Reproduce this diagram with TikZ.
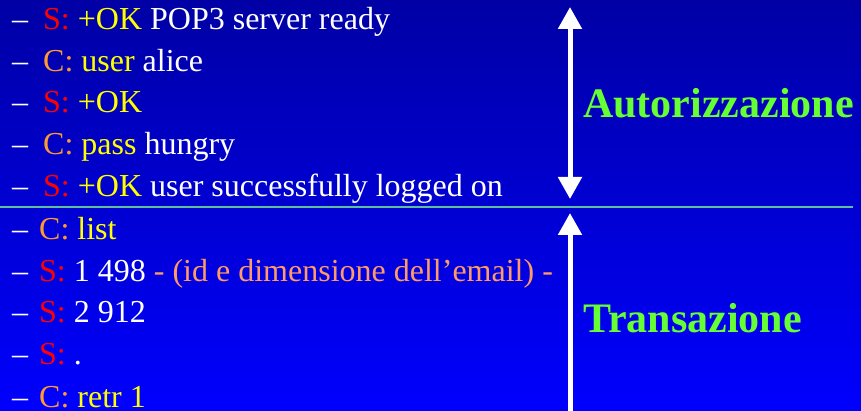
\documentclass[tikz,border=0pt]{standalone}
\usepackage{fontspec}
\setmainfont{Liberation Serif}
\usetikzlibrary{arrows.meta}

\definecolor{bgtop}{RGB}{0,0,165}
\definecolor{bgbot}{RGB}{0,0,255}
\definecolor{serv}{RGB}{255,0,0}
\definecolor{clie}{RGB}{255,153,51}
\definecolor{kw}{RGB}{255,255,0}
\definecolor{nota}{RGB}{255,153,102}
\definecolor{fase}{RGB}{102,255,51}
\definecolor{divisore}{RGB}{95,190,160}

\newcommand{\serv}[1]{\textcolor{serv}{#1}}
\newcommand{\clie}[1]{\textcolor{clie}{#1}}
\newcommand{\kwd}[1]{\textcolor{kw}{#1}}
\newcommand{\nota}[1]{\textcolor{nota}{#1}}

\begin{document}
\begin{tikzpicture}[x=1pt, y=1pt,
    riga/.style={anchor=base west, inner sep=0pt, text=white, font=\fontsize{32}{38}\selectfont},
    trattino/.style={riga},
    fasetxt/.style={anchor=base west, inner sep=0pt, text=fase, font=\fontsize{42}{50}\selectfont\bfseries},
    freccia/.style={white, line width=5pt}]
    % Fondo
    \shade[top color=bgtop, bottom color=bgbot] (0,0) rectangle (861,411);
    \useasboundingbox (0,0) rectangle (861,411);

    % Autorizzazione
    \node[trattino] (t1) at (12,381) {--};
    \node[riga] (l1) at (43,381) {\serv{S:} \kwd{+OK} POP3 server ready};
    \node[trattino] (t2) at (12,339) {--};
    \node[riga] (l2) at (43,339) {\clie{C:} \kwd{user} alice};
    \node[trattino] (t3) at (12,298) {--};
    \node[riga] (l3) at (43,298) {\serv{S:} \kwd{+OK}};
    \node[trattino] (t4) at (12,256) {--};
    \node[riga] (l4) at (43,256) {\clie{C:} \kwd{pass} hungry};
    \node[trattino] (t5) at (12,214) {--};
    \node[riga] (l5) at (43,214) {\serv{S:} \kwd{+OK} user successfully logged on};

    % Transazione
    \node[trattino] (t6) at (12,171) {--};
    \node[riga] (l6) at (39,171) {\clie{C:} \kwd{list}};
    \node[trattino] (t7) at (12,129) {--};
    \node[riga] (l7) at (39,129) {\serv{S:} 1 498 \nota{- (id e dimensione dell'email) -}};
    \node[trattino] (t8) at (12,88) {--};
    \node[riga] (l8) at (39,88) {\serv{S:} 2 912};
    \node[trattino] (t9) at (12,46) {--};
    \node[riga] (l9) at (39,46) {\serv{S:} .};
    \node[trattino] (t10) at (12,3) {--};
    \node[riga] (l10) at (39,3) {\clie{C:} \kwd{retr 1}};

    % Divisore
    \coordinate (d0) at (0,204);
    \coordinate (d1) at (853,204);
    \draw[divisore, line width=1.6pt] (d0) -- (d1);

    % Frecce
    \coordinate (a1) at (570,404);
    \coordinate (a2) at (570,212);
    \coordinate (b1) at (570,-2);
    \coordinate (b2) at (570,198);
    \draw[freccia, {Triangle[width=23pt,length=22pt]}-{Triangle[width=23pt,length=22pt]}] (a1) -- (a2);
    \draw[freccia, -{Triangle[width=23pt,length=22pt]}] (b1) -- (b2);

    % Etichette
    \node[fasetxt] (aut) at (583,293) {Autorizzazione};
    \node[fasetxt] (tra) at (583,78) {Transazione};
\end{tikzpicture}
\end{document}
